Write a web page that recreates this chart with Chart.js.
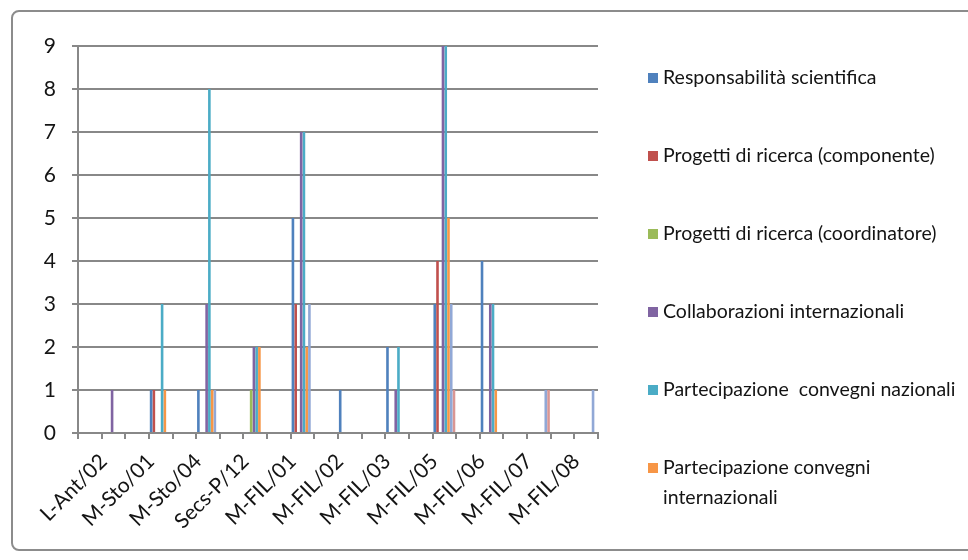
<!DOCTYPE html>
<html>
<head>
<meta charset="utf-8">
<script src="https://cdn.jsdelivr.net/npm/chart.js@4/dist/chart.umd.min.js"></script>
<style>
    body { margin: 0; background: #fff; }
    #wrap { position: relative; width: 968px; height: 560px; overflow: hidden; }
    #frame { position: absolute; left: 11px; top: 10px; width: 980px; height: 537px; border: 2px solid #8c8c8c; border-radius: 8px; }
    #chart { position: absolute; left: 0; top: 0; }
    #legend { position: absolute; left: 648px; top: 0; font-family: Lato, sans-serif; font-size: 19.5px; color: #141414; }
    .item { position: absolute; left: 0; width: 312px; display: flex; align-items: flex-start; line-height: 30px; }
    .swatch { flex: none; width: 10px; height: 10px; margin: 11px 5px 0 0; }
    .text { white-space: pre-wrap; }
</style>
</head>
<body>
<div id="wrap">
    <div id="frame"></div>
    <canvas id="chart" width="968" height="560"></canvas>
    <div id="legend"></div>
</div>
<script>
let categories = [ 'L-Ant/02', 'M-Sto/01', 'M-Sto/04', 'Secs-P/12', 'M-FIL/01', 'M-FIL/02', 'M-FIL/03', 'M-FIL/05', 'M-FIL/06', 'M-FIL/07', 'M-FIL/08' ];
let yTicks     = [ 0, 1, 2, 3, 4, 5, 6, 7, 8, 9 ];

let seriesNames = [
    'Responsabilità scientifica',
    'Progetti di ricerca (componente)',
    'Progetti di ricerca (coordinatore)',
    'Collaborazioni internazionali',
    'Partecipazione  convegni nazionali',
    'Partecipazione convegni internazionali',
    'Serie 7',
    'Serie 8'
];
let seriesColors = [ '#4F81BD', '#C0504D', '#9BBB59', '#8064A2', '#4BACC6', '#F79646', '#91A8D6', '#D99694' ];

let responsabilita   = [ 0, 1, 1, 0, 5, 1, 2, 3, 4, 0, 0 ];
let progettiComp     = [ 0, 1, 0, 0, 3, 0, 0, 4, 0, 0, 0 ];
let progettiCoord    = [ 0, 0, 0, 1, 0, 0, 0, 0, 0, 0, 0 ];
let collaborazioni   = [ 1, 0, 3, 2, 7, 0, 1, 9, 3, 0, 0 ];
let convegniNaz      = [ 0, 3, 8, 2, 7, 0, 2, 9, 3, 0, 0 ];
let convegniInt      = [ 0, 1, 1, 2, 2, 0, 0, 5, 1, 0, 0 ];
let serie7           = [ 0, 0, 1, 0, 3, 0, 0, 3, 0, 1, 1 ];
let serie8           = [ 0, 0, 0, 0, 0, 0, 0, 1, 0, 1, 0 ];

let seriesValues = [ responsabilita, progettiComp, progettiCoord, collaborazioni, convegniNaz, convegniInt, serie7, serie8 ];
let legendCount  = 6;   // the original legend only shows the first six series

// the source axis has a tick slot between every category, bars sit in the second slot
let slotLabels = categories.flatMap( ( c ) => [ '', c ] );

let datasets = seriesValues.map( ( values, i ) => ( {
    label: seriesNames[ i ],
    backgroundColor: seriesColors[ i ],
    borderWidth: 0,
    data: values.flatMap( ( v ) => [ null, v ] ),
    categoryPercentage: 0.93,
    barPercentage: 0.95
} ) );

let gridGray = '#888888';

Chart.defaults.font.family = 'Lato, sans-serif';
Chart.defaults.color = '#141414';

let chart = new Chart( document.getElementById( 'chart' ).getContext( '2d' ), {
    type: 'bar',
    data: { labels: slotLabels, datasets: datasets },
    options: {
        responsive: false,
        animation: false,
        layout: { padding: { left: 0, top: 46, right: 370, bottom: 0 } },
        plugins: { legend: { display: false }, tooltip: { enabled: false } },
        scales: {
            x: {
                offset: true,
                afterFit: ( scale ) => { scale.height = 127; },
                grid: { drawOnChartArea: false, drawTicks: true, tickLength: 6, offset: true, color: gridGray, lineWidth: 2 },
                border: { color: gridGray, width: 2 },
                ticks: { autoSkip: false, minRotation: 45, maxRotation: 45, labelOffset: -10, padding: 10, font: { size: 21 } }
            },
            y: {
                min: yTicks[ 0 ],
                max: yTicks[ yTicks.length - 1 ],
                afterFit: ( scale ) => { scale.width = 78; },
                afterBuildTicks: ( scale ) => { scale.ticks = yTicks.map( ( v ) => ( { value: v } ) ); },
                grid: { color: gridGray, lineWidth: 2, tickLength: 6 },
                border: { color: gridGray, width: 2 },
                ticks: { padding: 16, font: { size: 21 } }
            }
        }
    }
} );

// html legend, the wrapped last entry is easier this way
let legend = document.getElementById( 'legend' );
for ( let i = 0; i < legendCount; i++ ) {
    let item = document.createElement( 'div' );
    item.className = 'item';
    item.style.top = ( 62 + i * 78 ) + 'px';
    item.innerHTML = '<span class="swatch" style="background:' + seriesColors[ i ] + '"></span><span class="text"></span>';
    item.querySelector( '.text' ).textContent = seriesNames[ i ];
    legend.appendChild( item );
}
</script>
</body>
</html>
